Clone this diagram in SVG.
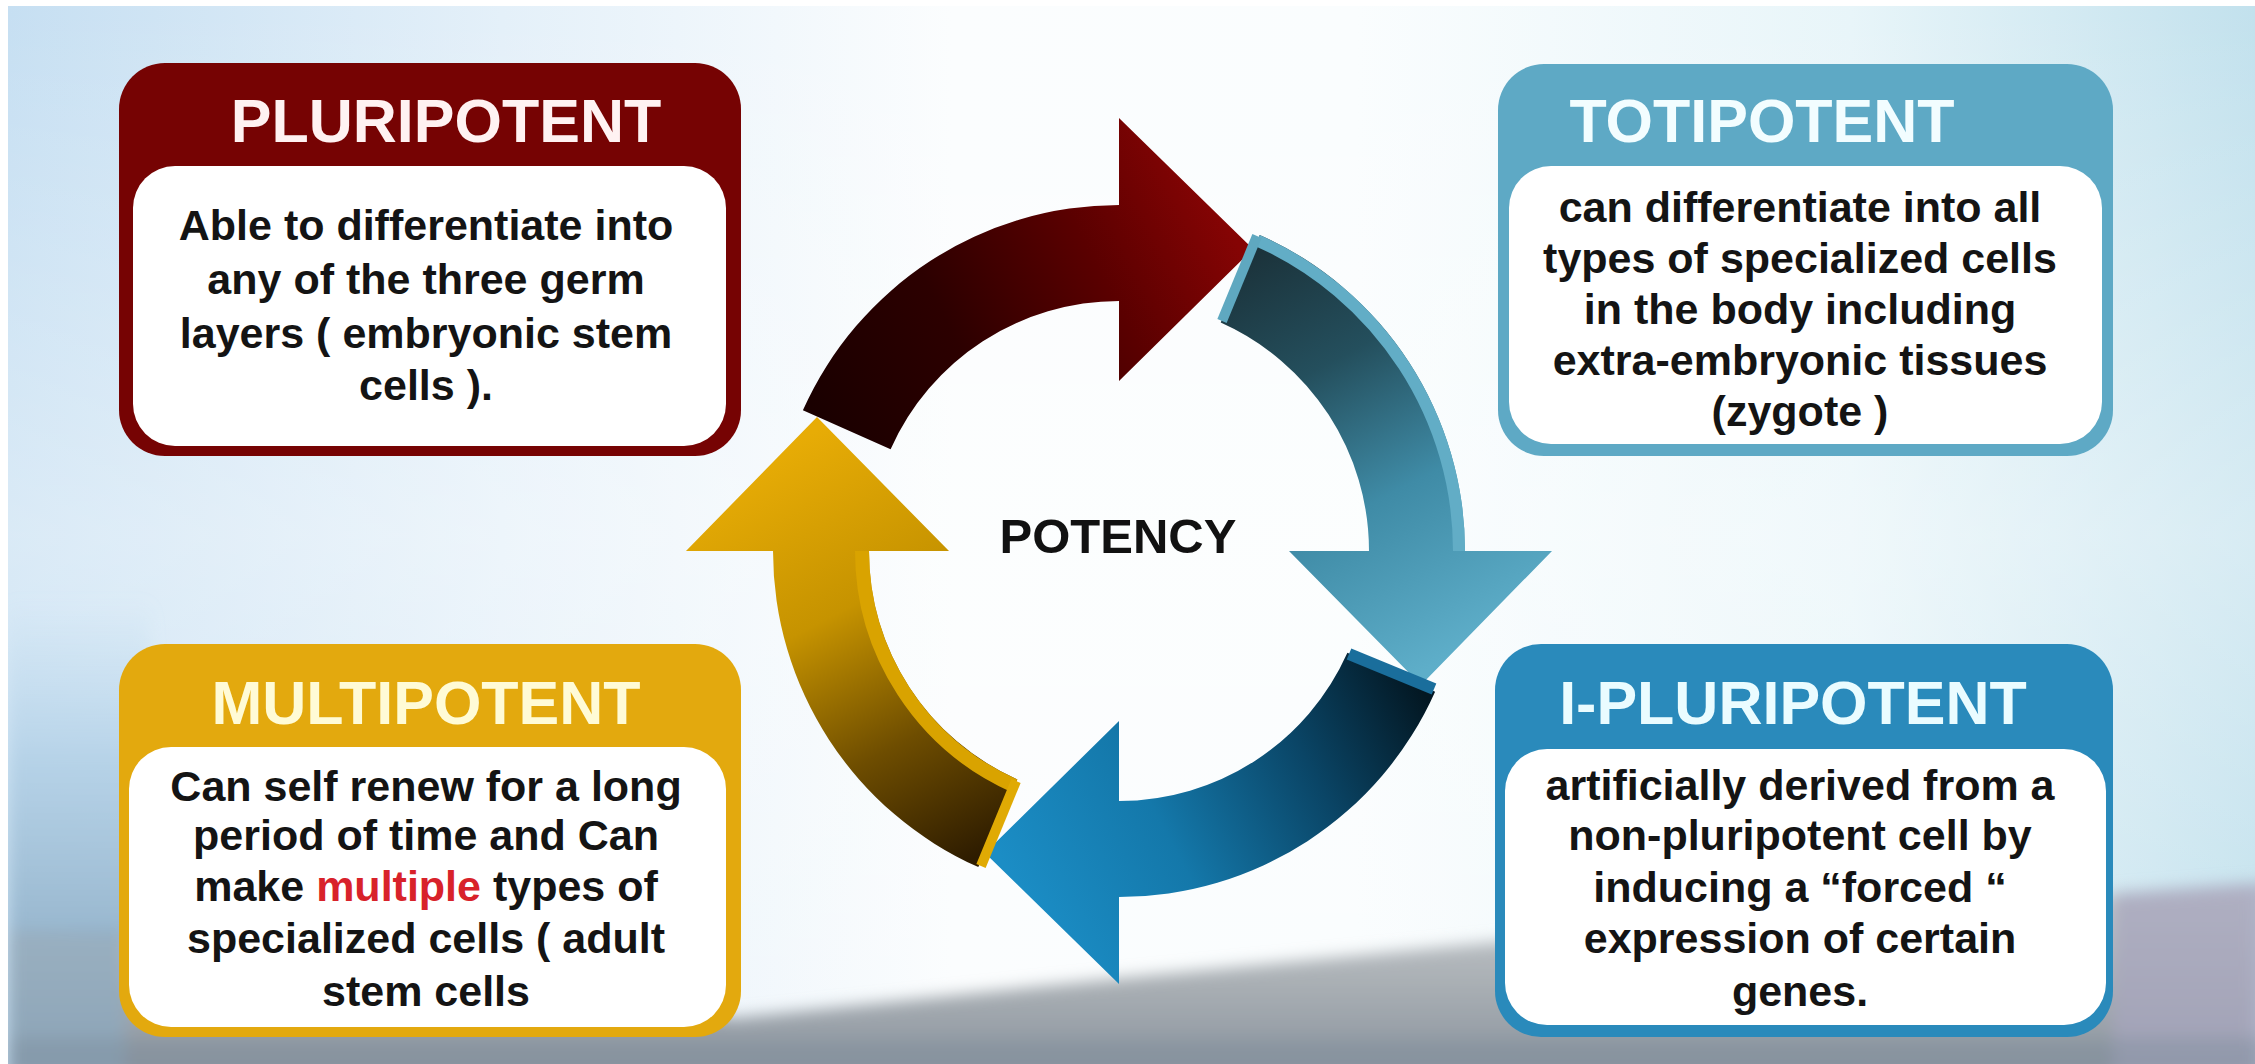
<svg xmlns="http://www.w3.org/2000/svg" width="2255" height="1064" viewBox="0 0 2255 1064">
<defs>
  <style>
    .title{font-family:"Liberation Sans",Arial,sans-serif;font-weight:bold;font-size:61px;text-anchor:middle}
    .body{font-family:"Liberation Sans",Arial,sans-serif;font-weight:bold;font-size:43px;text-anchor:middle;fill:#141414}
    .center{font-family:"Liberation Sans",Arial,sans-serif;font-weight:bold;font-size:49px;text-anchor:middle;fill:#111}
    .inner{fill:#ffffff}
    .bevel{fill:none}
  </style>
  <filter id="soft" x="-0.1" y="-0.1" width="1.2" height="1.2">
    <feGaussianBlur stdDeviation="8"/>
  </filter>
  <linearGradient id="bgH" x1="0" y1="0" x2="1" y2="0">
    <stop offset="0" stop-color="#c6dff2"/>
    <stop offset="0.22" stop-color="#e4f0f9"/>
    <stop offset="0.42" stop-color="#fbfdfe"/>
    <stop offset="0.6" stop-color="#fafdfe"/>
    <stop offset="0.82" stop-color="#e8f5f9"/>
    <stop offset="1" stop-color="#c2e1ed"/>
  </linearGradient>
  <linearGradient id="bgV" x1="0" y1="0" x2="0" y2="1">
    <stop offset="0" stop-color="#ffffff" stop-opacity="0"/>
    <stop offset="0.5" stop-color="#ffffff" stop-opacity="0.35"/>
    <stop offset="1" stop-color="#ffffff" stop-opacity="0"/>
  </linearGradient>
  <linearGradient id="hill" x1="0" y1="880" x2="0" y2="1064" gradientUnits="userSpaceOnUse">
    <stop offset="0" stop-color="#c9cdd0"/>
    <stop offset="0.6" stop-color="#a7adb2"/>
    <stop offset="1" stop-color="#8d96a0"/>
  </linearGradient>
  <linearGradient id="leftStrip" x1="0" y1="600" x2="0" y2="1064" gradientUnits="userSpaceOnUse">
    <stop offset="0" stop-color="#b9d6ec" stop-opacity="0"/>
    <stop offset="0.35" stop-color="#aecde4" stop-opacity="0.8"/>
    <stop offset="1" stop-color="#7f9fb8"/>
  </linearGradient>
  <linearGradient id="gRed" x1="830" y1="440" x2="1230" y2="230" gradientUnits="userSpaceOnUse">
    <stop offset="0" stop-color="#1a0000"/>
    <stop offset="0.35" stop-color="#2c0000"/>
    <stop offset="0.7" stop-color="#5a0000"/>
    <stop offset="1" stop-color="#850404"/>
  </linearGradient>
  <linearGradient id="gTeal" x1="830" y1="440" x2="1230" y2="230" gradientUnits="userSpaceOnUse">
    <stop offset="0" stop-color="#1b323a"/>
    <stop offset="0.3" stop-color="#244f5d"/>
    <stop offset="0.62" stop-color="#3f8ba6"/>
    <stop offset="1" stop-color="#5eaec9"/>
  </linearGradient>
  <linearGradient id="gBlue" x1="830" y1="440" x2="1230" y2="230" gradientUnits="userSpaceOnUse">
    <stop offset="0" stop-color="#031722"/>
    <stop offset="0.3" stop-color="#0a4566"/>
    <stop offset="0.65" stop-color="#1478aa"/>
    <stop offset="1" stop-color="#1b8dc5"/>
  </linearGradient>
  <linearGradient id="gYellow" x1="830" y1="440" x2="1230" y2="230" gradientUnits="userSpaceOnUse">
    <stop offset="0" stop-color="#2e1c00"/>
    <stop offset="0.3" stop-color="#6e4d00"/>
    <stop offset="0.62" stop-color="#c69300"/>
    <stop offset="1" stop-color="#e7ac06"/>
  </linearGradient>
</defs>

<g id="background">
  <rect x="0" y="0" width="2255" height="1064" fill="#ffffff"/>
  <rect x="8" y="6" width="2247" height="1058" fill="url(#bgH)"/>
  <rect x="8" y="6" width="2247" height="1058" fill="url(#bgV)"/>
  <g filter="url(#soft)">
    <path d="M 8 600 L 150 600 L 150 1064 L 8 1064 Z" fill="url(#leftStrip)"/>
    <path d="M 8 930 L 300 945 L 733 1018 L 1122 978 L 1496 942 L 2121 895 L 2255 885 L 2255 1080 L 8 1080 Z" fill="url(#hill)"/>
    <path d="M 2113 893 L 2270 882 L 2270 1080 L 2113 1080 Z" fill="#a7a5bd" opacity="0.75"/>
    <path d="M 8 930 L 125 930 L 125 1080 L 8 1080 Z" fill="#8ca9c1" opacity="0.7"/>
    <rect x="8" y="1038" width="2260" height="40" fill="#7d8c9a" opacity="0.4"/>
  </g>
  <rect x="0" y="0" width="2255" height="6" fill="#ffffff"/>
  <rect x="0" y="0" width="8" height="1064" fill="#ffffff"/>
</g>

<g id="connectors">
  <g id="arrow-pluri-to-toti">
    <path d="M 802.9 410.3 A 346 346 0 0 1 1119 205 L 1119 118 L 1253 249 L 1119 381 L 1119 301 A 250 250 0 0 0 890.6 449.3 Z" fill="url(#gRed)"/>
  </g>
  <g id="arrow-toti-to-ipluri" transform="rotate(90 1119 551)">
    <path d="M 802.9 410.3 A 346 346 0 0 1 1119 205 L 1119 118 L 1253 249 L 1119 381 L 1119 301 A 250 250 0 0 0 890.6 449.3 Z" fill="url(#gTeal)"/>
    <path class="bevel" d="M 808.4 412.7 A 340 340 0 0 1 1119 211" stroke="#62adc6" stroke-width="12"/>
    <path class="bevel" d="M 804 413 L 889 448" stroke="#5fa8c0" stroke-width="10"/>
  </g>
  <g id="arrow-ipluri-to-multi" transform="rotate(180 1119 551)">
    <path d="M 802.9 410.3 A 346 346 0 0 1 1119 205 L 1119 118 L 1253 249 L 1119 381 L 1119 301 A 250 250 0 0 0 890.6 449.3 Z" fill="url(#gBlue)"/>
    <path class="bevel" d="M 804 413 L 889 448" stroke="#1a6e9c" stroke-width="12"/>
  </g>
  <g id="arrow-multi-to-pluri" transform="rotate(270 1119 551)">
    <path d="M 802.9 410.3 A 346 346 0 0 1 1119 205 L 1119 118 L 1253 249 L 1119 381 L 1119 301 A 250 250 0 0 0 890.6 449.3 Z" fill="url(#gYellow)"/>
    <path class="bevel" d="M 884.2 446.5 A 257 257 0 0 1 1119 294" stroke="#d9a300" stroke-width="14"/>
    <path class="bevel" d="M 804 413 L 889 448" stroke="#e0aa04" stroke-width="10"/>
  </g>
</g>

<g id="potency">
  <text class="center" x="1118" y="553">POTENCY</text>
</g>

<g id="pluripotent">
  <rect x="119" y="63" width="622" height="393" rx="46" fill="#760303"/>
  <rect class="inner" x="133" y="166" width="593" height="280" rx="42"/>
  <text class="title" x="446" y="142" fill="#fff2f2">PLURIPOTENT</text>
  <text class="body" x="426" y="240">Able to differentiate into</text>
  <text class="body" x="426" y="294">any of the three germ</text>
  <text class="body" x="426" y="348">layers ( embryonic stem</text>
  <text class="body" x="426" y="400">cells ).</text>
</g>

<g id="totipotent">
  <rect x="1498" y="64" width="615" height="392" rx="46" fill="#5ea9c5"/>
  <rect class="inner" x="1509" y="166" width="593" height="278" rx="42"/>
  <text class="title" x="1762" y="142" fill="#f2fdff">TOTIPOTENT</text>
  <text class="body" x="1800" y="222">can differentiate into all</text>
  <text class="body" x="1800" y="273">types of specialized cells</text>
  <text class="body" x="1800" y="324">in the body including</text>
  <text class="body" x="1800" y="375">extra-embryonic tissues</text>
  <text class="body" x="1800" y="426">(zygote )</text>
</g>

<g id="multipotent">
  <rect x="119" y="644" width="622" height="393" rx="46" fill="#e3a90e"/>
  <rect class="inner" x="129" y="747" width="597" height="280" rx="42"/>
  <text class="title" x="426" y="724" fill="#fffbd6">MULTIPOTENT</text>
  <text class="body" x="426" y="801">Can self renew for a long</text>
  <text class="body" x="426" y="850">period of time and Can</text>
  <text class="body" x="426" y="901">make <tspan fill="#d8222a">multiple</tspan> types of</text>
  <text class="body" x="426" y="953">specialized cells ( adult</text>
  <text class="body" x="426" y="1006">stem cells</text>
</g>

<g id="i-pluripotent">
  <rect x="1495" y="644" width="618" height="393" rx="46" fill="#2a8abb"/>
  <rect class="inner" x="1505" y="749" width="601" height="276" rx="42"/>
  <text class="title" x="1793" y="724" fill="#eafcff">I-PLURIPOTENT</text>
  <text class="body" x="1800" y="800">artificially derived from a</text>
  <text class="body" x="1800" y="850">non-pluripotent cell by</text>
  <text class="body" x="1800" y="902">inducing a “forced “</text>
  <text class="body" x="1800" y="953">expression of certain</text>
  <text class="body" x="1800" y="1006">genes.</text>
</g>
</svg>
